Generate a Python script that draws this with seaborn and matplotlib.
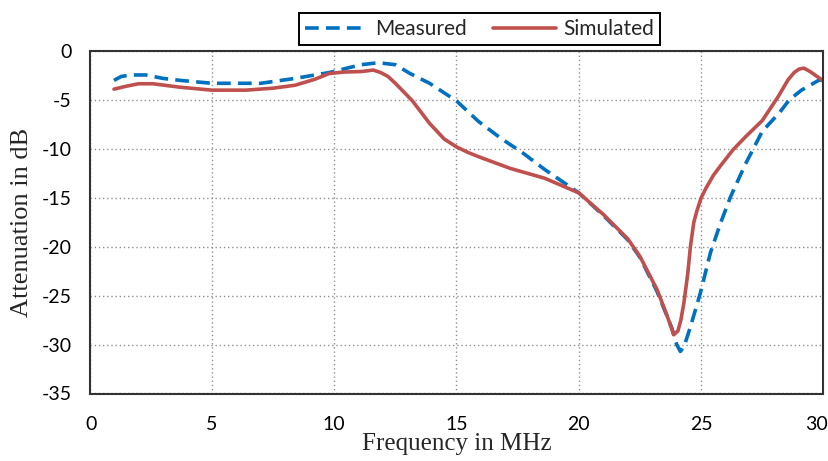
import matplotlib
matplotlib.use("Agg")
import matplotlib.pyplot as plt
import matplotlib.transforms as mtransforms
import seaborn as sns
import pandas as pd

# Measured (blue dashed)
meas_f = [1.0, 1.3, 1.7, 2.3, 3.0, 3.7, 5.0, 7.0, 8.4, 9.8, 11.1, 11.8, 12.5, 13.1, 13.9,
          15.0, 15.9, 16.8, 17.7, 18.6, 20.0, 21.0, 22.0, 22.5, 23.2, 23.8, 24.0, 24.15,
          24.3, 24.56, 24.97, 25.38, 25.79, 26.2, 26.8, 27.5, 28.2, 28.6, 29.1, 29.8, 30.0]
meas_db = [-3.0, -2.6, -2.45, -2.45, -2.8, -3.0, -3.3, -3.3, -2.8, -2.2, -1.4, -1.2, -1.4, -2.3, -3.3,
           -5.1, -7.2, -8.9, -10.4, -12.1, -14.5, -16.8, -19.3, -21.1, -24.6, -28.3, -30.0, -30.7,
           -30.2, -28.2, -24.7, -20.6, -17.6, -14.9, -11.6, -8.2, -6.3, -5.0, -4.0, -3.0, -2.9]

# Simulated (red solid)
sim_f = [1.0, 1.5, 2.0, 2.6, 3.7, 5.0, 6.4, 7.5, 8.4, 9.2, 9.8, 10.4, 11.1, 11.6, 11.9,
         12.2, 12.5, 12.85, 13.2, 13.9, 14.5, 15.0, 15.5, 15.9, 17.2, 18.6, 20.0, 21.0,
         22.0, 22.5, 23.2, 23.6, 23.88, 24.05, 24.17, 24.29, 24.45, 24.56, 24.7, 24.83,
         25.0, 25.2, 25.5, 25.8, 26.3, 26.8, 27.5, 28.15, 28.55, 28.8, 29.0, 29.2, 29.45,
         29.85, 30.0]
sim_db = [-3.9, -3.6, -3.35, -3.35, -3.7, -4.0, -4.0, -3.8, -3.5, -2.9, -2.3, -2.15, -2.1, -1.95, -2.2,
          -2.6, -3.3, -4.2, -5.1, -7.4, -9.0, -9.8, -10.4, -10.8, -12.0, -13.0, -14.5, -16.7,
          -19.2, -21.0, -24.4, -27.0, -29.0, -28.6, -27.5, -25.8, -22.8, -20.0, -17.5, -16.3,
          -15.0, -14.0, -12.7, -11.7, -10.1, -8.8, -7.1, -4.65, -2.95, -2.2, -1.85, -1.75, -2.1,
          -2.8, -3.1]

x_ticks = [0, 5, 10, 15, 20, 25, 30]
y_ticks = [0, -5, -10, -15, -20, -25, -30, -35]

sns.set_style("white")
plt.rcParams['font.family'] = ['Lato', 'DejaVu Sans']
plt.rcParams['axes.unicode_minus'] = False

fig = plt.figure(figsize=(8.29, 4.61), dpi=100)
ax = fig.add_axes([89.5/829, 1 - 393.5/461, (823.5 - 89.5)/829, (393.5 - 51)/461])

df_m = pd.DataFrame({"f": meas_f, "db": meas_db})
df_s = pd.DataFrame({"f": sim_f, "db": sim_db})

sns.lineplot(data=df_m, x="f", y="db", ax=ax, color="#0070C0", linewidth=2.6,
             label="Measured", sort=False)
sns.lineplot(data=df_s, x="f", y="db", ax=ax, color="#C0504D", linewidth=2.6,
             label="Simulated", sort=False)
ax.lines[0].set_dashes([3.8, 2.0])
ax.lines[0].set_dash_capstyle("butt")

ax.set_xlim(0, 30)
ax.set_ylim(-35, 0)
ax.set_xticks(x_ticks)
ax.set_yticks(y_ticks)
ax.tick_params(axis='both', length=0, labelsize=14, colors="black")
ax.tick_params(axis='x', pad=16)
ax.tick_params(axis='y', pad=13)
ax.grid(True, linestyle=(0, (1, 2)), color="#909090", linewidth=1.0)
for s in ax.spines.values():
    s.set_color("#333333")
    s.set_linewidth(1.5)

# shift end x tick labels so they sit like the reference
xl = ax.get_xticklabels()
xl[0].set_transform(xl[0].get_transform() + mtransforms.ScaledTranslation(2/100, 0, fig.dpi_scale_trans))
xl[-1].set_transform(xl[-1].get_transform() + mtransforms.ScaledTranslation(-7/100, 0, fig.dpi_scale_trans))

ax.set_xlabel("Frequency in MHz", family=["Liberation Serif"], fontsize=18, labelpad=0)
ax.set_ylabel("Attenuation in dB", family=["Liberation Serif"], fontsize=19, labelpad=6)

leg = ax.legend(loc="center", bbox_to_anchor=(479.5/829, 1 - 29/461),
                bbox_transform=fig.transFigure, ncol=2, fontsize=15,
                frameon=True, fancybox=False, framealpha=1, edgecolor="black",
                handlelength=3.0, columnspacing=1.3, handletextpad=0.35,
                borderpad=0.3, borderaxespad=0)
leg.get_frame().set_linewidth(1.4)

fig.savefig("out.png", dpi=100)
